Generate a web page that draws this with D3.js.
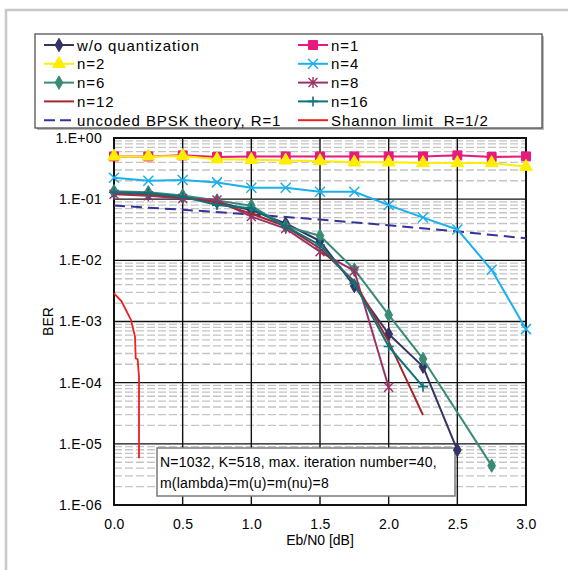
<!DOCTYPE html>
<html>
<head>
<meta charset="utf-8">
<script src="https://cdn.jsdelivr.net/npm/d3@7"></script>
<style>
  html, body { margin: 0; padding: 0; background: #fff; }
  svg { display: block; }
  text { font-family: "Liberation Sans", Arial, sans-serif; fill: #000; }
</style>
</head>
<body>
<svg id="chart" width="568" height="570"></svg>
<script>
// Eb/N0 sample points [dB]
const ebn0 = [0, 0.25, 0.5, 0.75, 1.0, 1.25, 1.5, 1.75, 2.0, 2.25, 2.5, 2.75, 3.0];

// BER per quantization setting (null = not simulated)
const berNoQuant = [0.13, 0.125, 0.11, 0.09, 0.066, 0.040, 0.0207, 0.0038, 0.000625, 0.000183, 7.9e-6, null, null];
const berN1  = [0.50, 0.50, 0.52, 0.49, 0.50, 0.50, 0.50, 0.50, 0.50, 0.50, 0.52, 0.49, 0.50];
const berN2  = [0.50, 0.50, 0.51, 0.45, 0.44, 0.43, 0.42, 0.40, 0.40, 0.39, 0.39, 0.39, 0.34];
const berN4  = [0.224, 0.20, 0.206, 0.188, 0.154, 0.154, 0.132, 0.132, 0.080, 0.050, 0.032, 0.0070, 0.00075];
const berN6  = [0.135, 0.13, 0.115, 0.095, 0.078, 0.036, 0.0253, 0.0071, 0.00128, 0.000244, null, 4.4e-6, null];
const berN8  = [0.12, 0.114, 0.103, 0.097, 0.052, 0.033, 0.0138, 0.0067, 8.4e-5, null, null, null, null];
const berN12 = [0.125, 0.12, 0.105, 0.088, 0.058, 0.036, 0.0156, 0.0045, 0.00047, 2.96e-5, null, null, null];
const berN16 = [0.13, 0.125, 0.11, 0.08, 0.071, 0.036, 0.0178, 0.0042, 0.00039, 8.6e-5, null, null, null];

// Uncoded BPSK reference curve
const bpskEbn0 = [0, 0.5, 1.0, 1.5, 2.0, 2.5, 3.0];
const bpskBer  = [0.0786, 0.0671, 0.0563, 0.0464, 0.0375, 0.0297, 0.0229];

// Shannon limit for R=1/2
const shannonEbn0 = [0, 0.054, 0.087, 0.124, 0.153, 0.158, 0.172, 0.182, 0.182];
const shannonBer  = [0.00289, 0.00216, 0.00154, 0.00106, 0.000565, 0.00025, 0.000241, 0.000125, 5.8e-6];

// Axis ticks
const xTicks = [0, 0.5, 1.0, 1.5, 2.0, 2.5, 3.0];
const xTickLabels = ["0.0", "0.5", "1.0", "1.5", "2.0", "2.5", "3.0"];
const yTicks = [1, 1e-1, 1e-2, 1e-3, 1e-4, 1e-5, 1e-6];
const yTickLabels = ["1.E+00", "1.E-01", "1.E-02", "1.E-03", "1.E-04", "1.E-05", "1.E-06"];

const noteLines = ["N=1032, K=518, max. iteration number=40,", "m(lambda)=m(u)=m(nu)=8"];

const series = [
  { name: "w/o quantization", y: berNoQuant, color: "#333366", marker: "diamond", col: 0, row: 0 },
  { name: "n=1",  y: berN1,  color: "#e8197f", marker: "square",   col: 1, row: 0 },
  { name: "n=2",  y: berN2,  color: "#ffee00", marker: "triangle", col: 0, row: 1 },
  { name: "n=4",  y: berN4,  color: "#1ab0ee", marker: "x",        col: 1, row: 1 },
  { name: "n=6",  y: berN6,  color: "#3a8a78", marker: "diamond",  col: 0, row: 2 },
  { name: "n=8",  y: berN8,  color: "#993366", marker: "star",     col: 1, row: 2 },
  { name: "n=12", y: berN12, color: "#a3282e", marker: null,       col: 0, row: 3 },
  { name: "n=16", y: berN16, color: "#0a7479", marker: "plus",     col: 1, row: 3 }
];

const svg = d3.select("#chart");
const W = 568, H = 570;
const plot = { left: 114, right: 526, top: 138, bottom: 505 };

const x = d3.scaleLinear().domain([0, 3]).range([plot.left, plot.right]);
const y = d3.scaleLog().domain([1e-6, 1]).range([plot.bottom, plot.top]);

// outer frame (top and left edges)
svg.append("path")
  .attr("d", `M6,${H} L6,10 L${W},10`)
  .attr("fill", "none").attr("stroke", "#c8c8c8").attr("stroke-width", 2.5);

// minor horizontal grid (2..9 within each decade)
const minor = [];
for (let e = -6; e < 0; e++) for (let m = 2; m <= 9; m++) minor.push(m * Math.pow(10, e));
svg.append("g").selectAll("line").data(minor).join("line")
  .attr("x1", plot.left).attr("x2", plot.right)
  .attr("y1", d => y(d)).attr("y2", d => y(d))
  .attr("stroke", "#c4c4c4").attr("stroke-width", 1.3).attr("stroke-dasharray", "8,3");

// major grid
svg.append("g").selectAll("line").data(yTicks).join("line")
  .attr("x1", plot.left).attr("x2", plot.right)
  .attr("y1", d => y(d)).attr("y2", d => y(d))
  .attr("stroke", "#111").attr("stroke-width", 1.4);
svg.append("g").selectAll("line").data(xTicks).join("line")
  .attr("x1", d => x(d)).attr("x2", d => x(d))
  .attr("y1", plot.top).attr("y2", plot.bottom)
  .attr("stroke", "#111").attr("stroke-width", 1.4);

// plot border
svg.append("rect")
  .attr("x", plot.left).attr("y", plot.top)
  .attr("width", plot.right - plot.left).attr("height", plot.bottom - plot.top)
  .attr("fill", "none").attr("stroke", "#111").attr("stroke-width", 2);

// axes built with d3 axis generators, then restyled
const xAxis = d3.axisBottom(x).tickValues(xTicks).tickFormat((d, i) => xTickLabels[i]).tickSize(0).tickPadding(14);
svg.append("g").attr("transform", `translate(0,${plot.bottom})`).call(xAxis)
  .call(g => g.select(".domain").remove())
  .selectAll("text").attr("font-size", 14).attr("font-family", "Liberation Sans, Arial, sans-serif")
  .attr("fill", "#222").attr("letter-spacing", 0.3);

const yAxis = d3.axisLeft(y).tickValues(yTicks).tickFormat((d, i) => yTickLabels[i]).tickSize(0).tickPadding(12);
svg.append("g").attr("transform", `translate(${plot.left},0)`).call(yAxis)
  .call(g => g.select(".domain").remove())
  .selectAll("text").attr("font-size", 14).attr("font-family", "Liberation Sans, Arial, sans-serif")
  .attr("fill", "#222").attr("letter-spacing", 0.3);

svg.append("text").attr("x", (plot.left + plot.right) / 2).attr("y", 545)
  .attr("text-anchor", "middle").attr("font-size", 14).attr("fill", "#222").text("Eb/N0 [dB]");
svg.append("text").attr("transform", `translate(53,${(plot.top + plot.bottom) / 2}) rotate(-90)`)
  .attr("text-anchor", "middle").attr("font-size", 14).attr("fill", "#222").text("BER");

// annotation box
svg.append("rect").attr("x", 157).attr("y", 448).attr("width", 298).attr("height", 48)
  .attr("fill", "#fff").attr("stroke", "#7a7a7a").attr("stroke-width", 1.5);
svg.append("g").selectAll("text").data(noteLines).join("text")
  .attr("x", 160).attr("y", (d, i) => 467 + i * 21)
  .attr("font-size", 14).attr("letter-spacing", 0.2).text(d => d);

// marker drawing
function drawMarker(g, type, color) {
  if (type === "diamond") {
    g.append("path").attr("d", d3.symbol(d3.symbolDiamond, 52)())
      .attr("fill", color).attr("stroke", color).attr("stroke-width", 1);
  } else if (type === "square") {
    g.append("path").attr("d", d3.symbol(d3.symbolSquare, 80)())
      .attr("fill", color).attr("stroke", color).attr("stroke-width", 1);
  } else if (type === "triangle") {
    g.append("path").attr("d", d3.symbol(d3.symbolTriangle, 70)())
      .attr("fill", color).attr("stroke", color).attr("stroke-width", 1);
  } else if (type === "x") {
    g.append("path").attr("d", "M-5,-5 L5,5 M-5,5 L5,-5")
      .attr("fill", "none").attr("stroke", color).attr("stroke-width", 1.5);
  } else if (type === "plus") {
    g.append("path").attr("d", "M-5,0 L5,0 M0,-5 L0,5")
      .attr("fill", "none").attr("stroke", color).attr("stroke-width", 1.6);
  } else if (type === "star") {
    g.append("path").attr("d", "M-4.5,-4.5 L4.5,4.5 M-4.5,4.5 L4.5,-4.5 M0,-5.5 L0,5.5")
      .attr("fill", "none").attr("stroke", color).attr("stroke-width", 1.4);
  }
}

const line = d3.line().x(d => x(d[0])).y(d => y(d[1]));

// reference curves
svg.append("path")
  .datum(bpskEbn0.map((v, i) => [v, bpskBer[i]]))
  .attr("d", line).attr("fill", "none")
  .attr("stroke", "#333399").attr("stroke-width", 2).attr("stroke-dasharray", "11,6");
svg.append("path")
  .datum(shannonEbn0.map((v, i) => [v, shannonBer[i]]))
  .attr("d", line).attr("fill", "none")
  .attr("stroke", "#ee2020").attr("stroke-width", 1.8);

// simulated series
series.forEach(s => {
  const pts = ebn0.map((v, i) => [v, s.y[i]]).filter(p => p[1] != null);
  svg.append("path").datum(pts).attr("d", line).attr("fill", "none")
    .attr("stroke", s.color).attr("stroke-width", 2).attr("stroke-linejoin", "round");
  if (s.marker) {
    pts.forEach(p => {
      const g = svg.append("g").attr("transform", `translate(${x(p[0])},${y(p[1])})`);
      drawMarker(g, s.marker, s.color);
    });
  }
});

// legend
const legend = svg.append("g");
legend.append("rect").attr("x", 37).attr("y", 36).attr("width", 507).attr("height", 94).attr("fill", "#bbb");
legend.append("rect").attr("x", 35).attr("y", 34).attr("width", 507).attr("height", 94)
  .attr("fill", "#fff").attr("stroke", "#444").attr("stroke-width", 1.2);

const colX = [44, 298];
const rowY = [45, 63.8, 82.6, 101.4, 120.2];
const legendItems = series.map(s => ({ name: s.name, color: s.color, marker: s.marker, col: s.col, row: s.row, dash: null }))
  .concat([
    { name: "uncoded BPSK theory, R=1", color: "#333399", marker: null, col: 0, row: 4, dash: "11,6" },
    { name: "Shannon limit  R=1/2", color: "#ee2020", marker: null, col: 1, row: 4, dash: null }
  ]);

legendItems.forEach(it => {
  const lx = colX[it.col], ly = rowY[it.row];
  legend.append("line").attr("x1", lx).attr("x2", lx + 30).attr("y1", ly).attr("y2", ly)
    .attr("stroke", it.color).attr("stroke-width", 2)
    .attr("stroke-dasharray", it.dash ? "11,5" : null);
  if (it.marker) {
    const g = legend.append("g").attr("transform", `translate(${lx + 15},${ly})`);
    drawMarker(g, it.marker, it.color);
  }
  legend.append("text").attr("x", lx + 33).attr("y", ly + 5.5)
    .attr("font-size", 15).attr("letter-spacing", 0.9).attr("xml:space", "preserve")
    .style("white-space", "pre").text(it.name);
});
</script>
</body>
</html>
